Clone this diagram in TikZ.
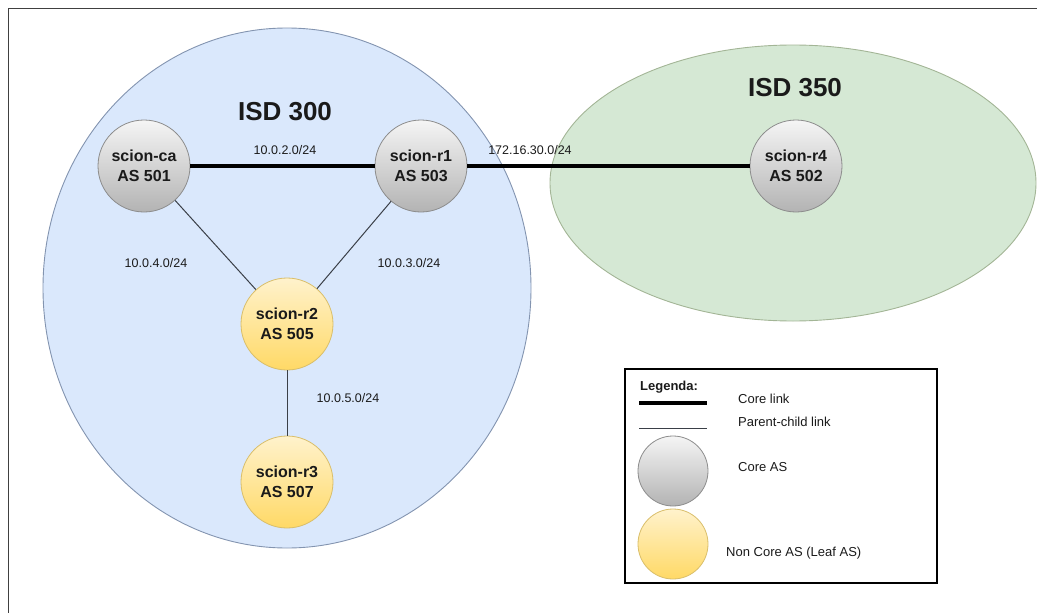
\documentclass[tikz,border=0pt]{standalone}
\usepackage{fontspec}
\setmainfont{Liberation Sans}
\usetikzlibrary{shapes.geometric}

\definecolor{isdblue}{HTML}{DAE8FC}
\definecolor{isdblueline}{HTML}{8394B0}
\definecolor{isdgreen}{HTML}{D5E8D4}
\definecolor{isdgreenline}{HTML}{A3B596}
\definecolor{coretop}{HTML}{F5F5F5}
\definecolor{corebot}{HTML}{B3B3B3}
\definecolor{coreline}{HTML}{8C8C8C}
\definecolor{leaftop}{HTML}{FFF2CC}
\definecolor{leafbot}{HTML}{FFD966}
\definecolor{leafline}{HTML}{D9BE6A}
\definecolor{linkgray}{HTML}{3A3F47}
\definecolor{txt}{HTML}{1A1A1A}

\tikzset{
  asnode/.style={circle, minimum size=#1, inner sep=0pt, line width=0.8pt,
    align=center, text=txt, font=\fontsize{16}{20}\selectfont\bfseries},
  asnode/.default=92pt,
  coreas/.style={asnode=#1, draw=coreline, top color=coretop, bottom color=corebot},
  coreas/.default=92pt,
  leafas/.style={asnode=#1, draw=leafline, top color=leaftop, bottom color=leafbot},
  leafas/.default=92pt,
  corelink/.style={line width=4.5pt, black},
  pclink/.style={line width=1pt, linkgray},
  netlabel/.style={font=\fontsize{12.5}{14}\selectfont, text=txt, inner sep=0pt},
  isdtitle/.style={font=\fontsize{26}{30}\selectfont\bfseries, text=txt, inner sep=0pt},
  legtext/.style={font=\fontsize{13}{15}\selectfont, text=txt, anchor=west, inner sep=0pt},
}

\begin{document}
\begin{tikzpicture}[x=1pt, y=-1pt]
  \useasboundingbox (0,0) rectangle (1037,613);

  % page frame
  \draw[line width=1pt, black!75] (8,613) -- (8,8) -- (1037,8);

  % isolation domains
  \node[ellipse, draw=isdblueline, fill=isdblue, line width=0.9pt,
        minimum width=488pt, minimum height=520pt, inner sep=0pt] (isd300) at (287,288) {};
  \node[ellipse, draw=isdgreenline, fill=isdgreen, line width=0.9pt,
        minimum width=486pt, minimum height=276pt, inner sep=0pt] (isd350) at (793,183) {};

  \node[isdtitle] (t300) at (285,112) {ISD 300};
  \node[isdtitle] (t350) at (795,88) {ISD 350};

  % autonomous systems
  \node[coreas] (ca) at (144,166) {scion-ca\\AS 501};
  \node[coreas] (r1) at (421,166) {scion-r1\\AS 503};
  \node[coreas] (r4) at (796,166) {scion-r4\\AS 502};
  \node[leafas] (r2) at (287,324) {scion-r2\\AS 505};
  \node[leafas] (r3) at (287,482) {scion-r3\\AS 507};

  % links
  \draw[corelink] (ca) -- (r1);
  \draw[corelink] (r1) -- (r4);
  \draw[pclink] (ca) -- (r2);
  \draw[pclink] (r1) -- (r2);
  \draw[pclink] (r2) -- (r3);

  % subnet labels
  \node[netlabel] (n2) at (285,150) {10.0.2.0/24};
  \node[netlabel] (n30) at (530,150) {172.16.30.0/24};
  \node[netlabel] (n4) at (156,263) {10.0.4.0/24};
  \node[netlabel] (n3) at (409,263) {10.0.3.0/24};
  \node[netlabel] (n5) at (348,398) {10.0.5.0/24};

  % legend
  \draw[line width=1.6pt, black] (625,369) rectangle (937,583);
  \node[legtext, font=\fontsize{13}{15}\selectfont\bfseries] (leg) at (640,387) {Legenda:};
  \coordinate (lc1) at (639,403);
  \coordinate (lc2) at (707,403);
  \draw[corelink] (lc1) -- (lc2);
  \node[legtext] (lcore) at (738,399) {Core link};
  \coordinate (lp1) at (639,428);
  \coordinate (lp2) at (707,428);
  \draw[pclink] (lp1) -- (lp2);
  \node[legtext] (lpc) at (738,422) {Parent-child link};
  \node[coreas=70pt] (lgcore) at (673,471) {};
  \node[legtext] (lcas) at (738,467) {Core AS};
  \node[leafas=70pt] (lgleaf) at (673,544) {};
  \node[legtext] (llas) at (726,553) {Non Core AS (Leaf AS)};
\end{tikzpicture}
\end{document}
